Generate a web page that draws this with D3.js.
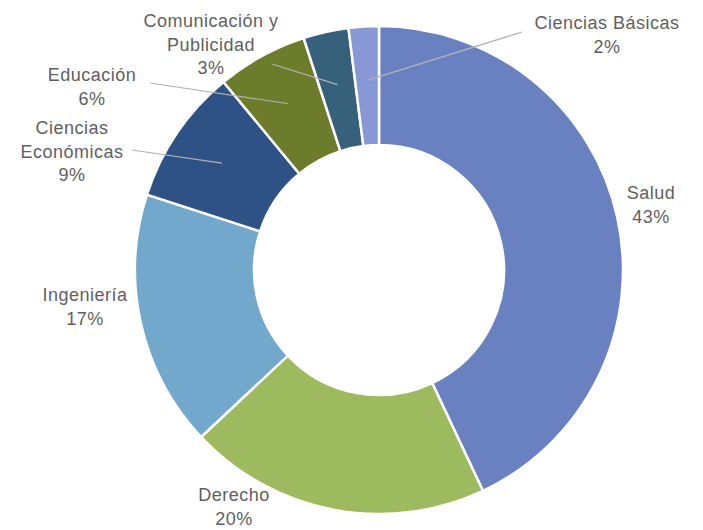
<!DOCTYPE html>
<html>
<head>
<meta charset="utf-8">
<script src="https://cdn.jsdelivr.net/npm/d3@7"></script>
<style>
  body { margin: 0; background: #fff; }
  text { font-family: "Liberation Sans", Arial, sans-serif; }
</style>
</head>
<body>
<svg></svg>
<script>
var svgWidth = 703, svgHeight = 530;

// data
var areas = ["Salud", "Derecho", "Ingeniería", "Ciencias Económicas", "Educación", "Comunicación y Publicidad", "Ciencias Básicas"];
var shares = [43, 20, 17, 9, 6, 3, 2];
var colors = ["#6a81c1", "#9dba5f", "#72a8cc", "#2f5286", "#6d7c2b", "#37617a", "#8898d6"];
// label lines as printed
var labelLines = [["Salud", "43%"], ["Derecho", "20%"], ["Ingeniería", "17%"], ["Ciencias", "Económicas", "9%"], ["Educación", "6%"], ["Comunicación y", "Publicidad", "3%"], ["Ciencias Básicas", "2%"]];

// label layout: centre x, first line y, leader start (null = none)
var labelPos = [
  {x: 651, y: 193, lead: null},
  {x: 234, y: 495, lead: null},
  {x: 85,  y: 295, lead: null},
  {x: 72,  y: 128, lead: [132, 150]},
  {x: 92,  y: 75,  lead: [150, 83]},
  {x: 211, y: 21,  lead: [272, 64]},
  {x: 607, y: 23,  lead: [522, 32]}
];

var cx = 379, cy = 270, outerR = 244, innerR = 125;

var svg = d3.select("svg").attr("width", svgWidth).attr("height", svgHeight);
var g = svg.append("g").attr("transform", "translate(" + cx + "," + cy + ")");

var pie = d3.pie().sort(null).value(function(d) { return d; });
var arc = d3.arc().innerRadius(innerR).outerRadius(outerR);
var arcs = pie(shares);

g.selectAll("path")
  .data(arcs)
  .enter()
  .append("path")
  .attr("d", arc)
  .attr("fill", function(d, i) { return colors[i]; })
  .attr("stroke", "#fff")
  .attr("stroke-width", 2.5);

// leader lines into the slices
arcs.forEach(function(d, i) {
  var p = labelPos[i];
  if (!p.lead) return;
  var a = (d.startAngle + d.endAngle) / 2;
  var r = 190;
  var ex = Math.sin(a) * r, ey = -Math.cos(a) * r;
  g.append("line")
    .attr("x1", p.lead[0] - cx).attr("y1", p.lead[1] - cy)
    .attr("x2", ex).attr("y2", ey)
    .attr("stroke", "#b3b3b3")
    .attr("stroke-width", 1.2);
});

// labels
var lineH = 23.5;
labelLines.forEach(function(lines, i) {
  var p = labelPos[i];
  var t = svg.append("text")
    .attr("text-anchor", "middle")
    .attr("font-size", "18px")
    .attr("letter-spacing", "0.5px")
    .attr("fill", "#5f5f5f");
  lines.forEach(function(s, k) {
    t.append("tspan")
      .attr("x", p.x)
      .attr("y", p.y + k * lineH)
      .attr("dy", "0.35em")
      .text(s);
  });
});
</script>
</body>
</html>
